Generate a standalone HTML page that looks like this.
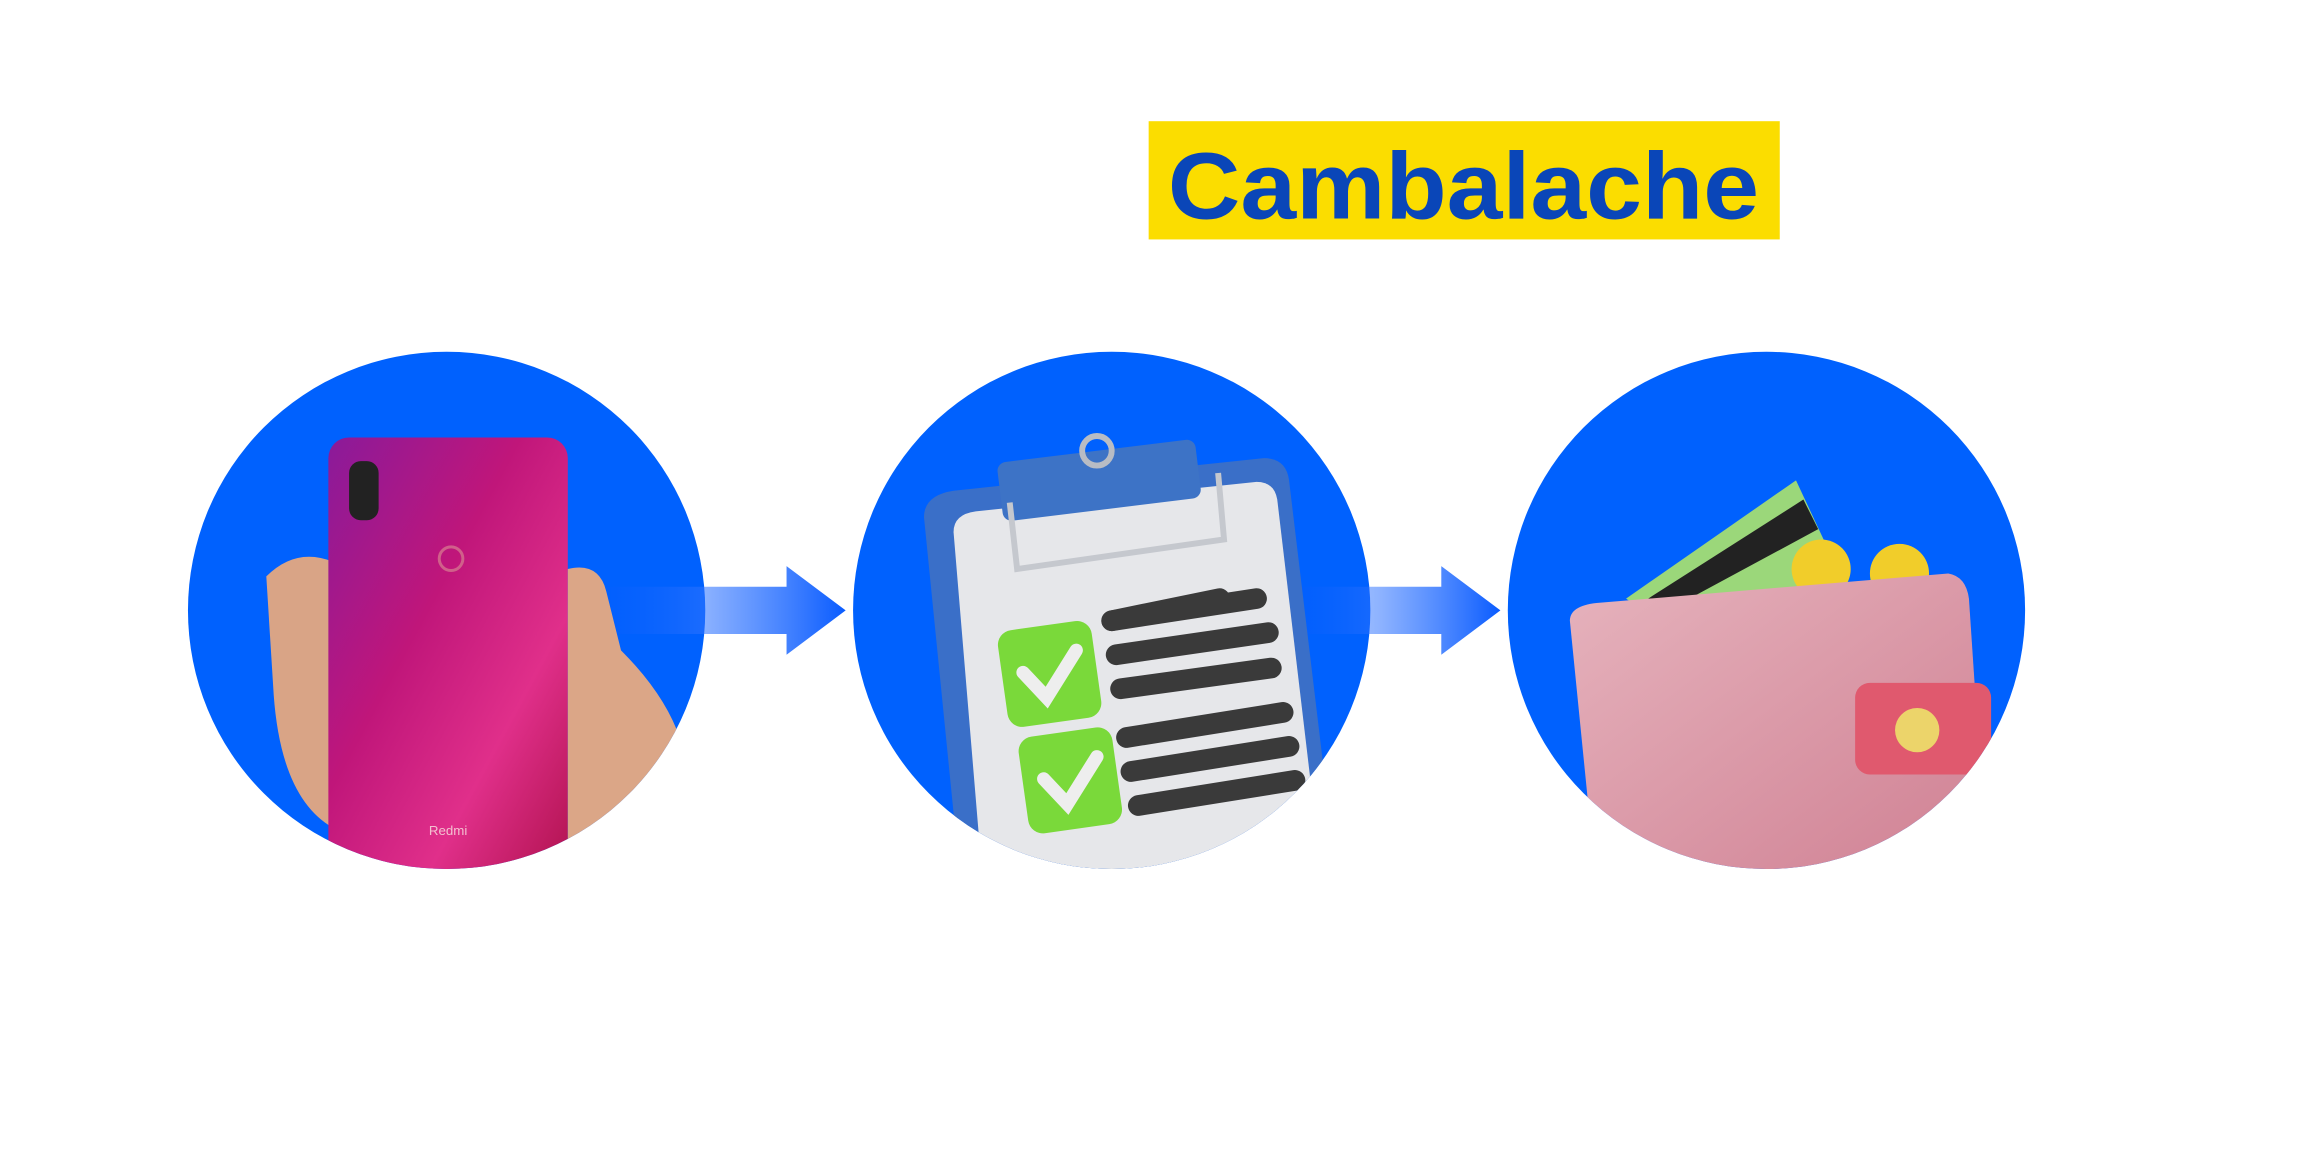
<!DOCTYPE html>
<html><head><meta charset="utf-8"><style>
html,body{margin:0;padding:0;background:#fff;}
svg{display:block;}
</style></head><body>
<svg width="2318" height="1175" viewBox="0 0 1568 795" xmlns="http://www.w3.org/2000/svg">
<defs>
<linearGradient id="ar" x1="0" x2="1" y1="0" y2="0">
<stop offset="0" stop-color="#0a5cff" stop-opacity="0.2"/><stop offset="0.4" stop-color="#2f73ff" stop-opacity="0.55"/><stop offset="1" stop-color="#0a5cff"/>
</linearGradient>
<linearGradient id="ph" x1="0" x2="1" y1="0" y2="1">
<stop offset="0" stop-color="#8a1a9a"/><stop offset="0.4" stop-color="#c0167a"/><stop offset="0.7" stop-color="#e02f8a"/><stop offset="1" stop-color="#b0124e"/>
</linearGradient>
<linearGradient id="wl" x1="0" x2="1" y1="0" y2="1">
<stop offset="0" stop-color="#e6b3bd"/><stop offset="1" stop-color="#cf7f92"/>
</linearGradient>
<clipPath id="c1"><circle cx="302" cy="413" r="175"/></clipPath>
<clipPath id="c2"><circle cx="752" cy="413" r="175"/></clipPath>
<clipPath id="c3"><circle cx="1195" cy="413" r="175"/></clipPath>
</defs>

<rect x="777" y="82" width="427" height="80" fill="#fbdd00"/>
<text x="990" y="148" text-anchor="middle" font-family="Liberation Sans, sans-serif" font-weight="bold" font-size="64" fill="#0a46b8" textLength="400" lengthAdjust="spacingAndGlyphs">Cambalache</text>

<circle cx="302" cy="413" r="175" fill="#0061fe"/>
<circle cx="752" cy="413" r="175" fill="#0061fe"/>
<circle cx="1195" cy="413" r="175" fill="#0061fe"/>

<!-- arrows -->
<polygon points="410,397 532,397 532,383 572,413 532,443 532,429 410,429" fill="url(#ar)"/>
<polygon points="880,397 975,397 975,383 1015,413 975,443 975,429 880,429" fill="url(#ar)"/>

<!-- phone -->
<g clip-path="url(#c1)">
<path d="M180,390 Q200,370 225,380 L225,560 Q190,540 185,470 Z" fill="#d9a486"/>
<rect x="222" y="296" width="162" height="300" rx="14" fill="url(#ph)"/>
<rect x="236" y="312" width="20" height="40" rx="8" fill="#222"/>
<circle cx="305" cy="378" r="8" fill="none" stroke="#d0608a" stroke-width="2"/>
<text x="303" y="565" text-anchor="middle" font-family="Liberation Sans, sans-serif" font-size="9" fill="#f3c0d0">Redmi</text>
<path d="M384,385 Q405,380 410,400 L420,440 Q450,470 460,500 L440,560 L384,580 Z" fill="#dba687"/>
</g>

<!-- clipboard -->
<g clip-path="url(#c2)">
<path d="M625,350 Q625,335 645,332 L855,310 Q870,310 872,325 L905,600 L650,600 Z" fill="#3a6fc8"/>
<path d="M645,360 Q645,348 660,346 L850,326 Q862,326 864,338 L895,600 L665,600 Z" fill="#e6e7ea"/>
<rect x="676" y="305" width="135" height="40" rx="6" fill="#3d73c6" transform="rotate(-7 743 325)"/>
<circle cx="742" cy="305" r="10" fill="none" stroke="#b8bcc4" stroke-width="4"/>
<path d="M683,340 L688,385 L828,365 L824,320" fill="none" stroke="#c5c8ce" stroke-width="4"/>
<rect x="678" y="423" width="64" height="66" rx="10" fill="#7ad93a" transform="rotate(-8 710 456)"/>
<rect x="692" y="495" width="64" height="66" rx="10" fill="#7ad93a" transform="rotate(-8 724 528)"/>
<path d="M692,455 L708,472 L728,440" fill="none" stroke="#eee" stroke-width="9" stroke-linecap="round"/>
<path d="M706,527 L722,544 L742,512" fill="none" stroke="#eee" stroke-width="9" stroke-linecap="round"/>
<g stroke="#3a3a3a" stroke-width="14" stroke-linecap="round">
<line x1="752" y1="420" x2="825" y2="405"/>
<line x1="755" y1="443" x2="858" y2="428"/>
<line x1="758" y1="466" x2="860" y2="452"/>
<line x1="762" y1="499" x2="868" y2="482"/>
<line x1="765" y1="522" x2="872" y2="505"/>
<line x1="770" y1="545" x2="876" y2="528"/>
</g>
<line x1="752" y1="420" x2="850" y2="405" stroke="#3a3a3a" stroke-width="14" stroke-linecap="round"/>
</g>

<!-- wallet -->
<g clip-path="url(#c3)">
<polygon points="1100,405 1215,325 1250,400 1150,440" fill="#9bd77a"/>
<polygon points="1115,405 1220,338 1230,358 1130,412" fill="#222"/>
<circle cx="1232" cy="385" r="20" fill="#f1cd2a"/>
<circle cx="1285" cy="388" r="20" fill="#f1cd2a"/>
<path d="M1062,420 Q1062,410 1080,408 L1318,388 Q1330,390 1332,405 L1345,600 L1080,600 Z" fill="url(#wl)"/>
<rect x="1255" y="462" width="92" height="62" rx="10" fill="#e0596e"/>
<circle cx="1297" cy="494" r="15" fill="#ecd46a"/>
</g>
</svg>
</body></html>
